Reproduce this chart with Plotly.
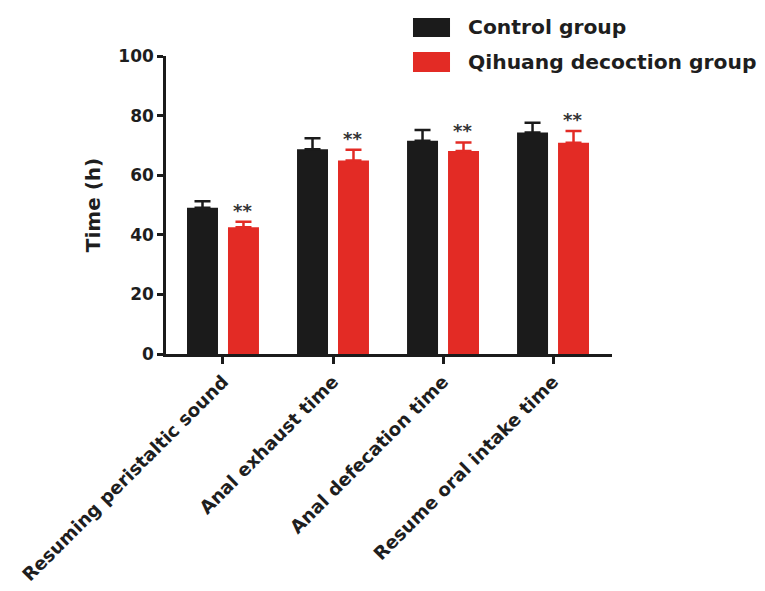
import plotly.graph_objects as go

categories = ["Resuming peristaltic sound", "Anal exhaust time",
              "Anal defecation time", "Resume oral intake time"]
control_mean = [49.1, 68.7, 71.6, 74.3]
control_err = [2.2, 3.7, 3.6, 3.3]
qihuang_mean = [42.5, 64.9, 68.1, 70.9]
qihuang_err = [1.9, 3.6, 2.9, 3.9]
series_names = ["Control group", "Qihuang decoction group"]
sig_labels = ["**", "**", "**", "**"]
y_ticks = [0, 20, 40, 60, 80, 100]

BLACK = "#1b1b1b"
RED = "#e32b25"
TXT = "#1e1e1e"
FONT = "DejaVu Sans"

fig = go.Figure()
fig.add_trace(go.Bar(
    x=categories, y=control_mean, name=series_names[0],
    marker=dict(color=BLACK, line=dict(width=0)),
    error_y=dict(type="data", symmetric=False, array=control_err,
                 arrayminus=[0] * 4, color=BLACK, thickness=2.5, width=8),
    showlegend=False,
))
fig.add_trace(go.Bar(
    x=categories, y=qihuang_mean, name=series_names[1],
    marker=dict(color=RED, line=dict(width=0)),
    error_y=dict(type="data", symmetric=False, array=qihuang_err,
                 arrayminus=[0] * 4, color=RED, thickness=2.5, width=8),
    showlegend=False,
))

# significance stars above the red bars
for c, m, e, s in zip(categories, qihuang_mean, qihuang_err, sig_labels):
    fig.add_annotation(x=c, y=m + e, text=s, showarrow=False,
                       xref="x", yref="y", xshift=19.5, yanchor="bottom", yshift=-1,
                       font=dict(family=FONT, size=18, color="#333333", weight="bold"))

# manual legend
legend_items = [(series_names[0], BLACK, 1.1275, 1.0638, 1.0973),
                (series_names[1], RED, 1.0134, 0.9463, 0.9799)]
for name, col, y0, y1, yc in legend_items:
    fig.add_shape(type="rect", xref="paper", yref="paper",
                  x0=0.5538, x1=0.6368, y0=y1, y1=y0,
                  fillcolor=col, line=dict(width=0), layer="above")
    fig.add_annotation(x=0.6726, y=yc, xref="paper", yref="paper",
                       text=name, showarrow=False, xanchor="left", yanchor="middle",
                       font=dict(family=FONT, size=20.3, color=TXT, weight="bold"))

fig.update_layout(
    width=757, height=583,
    margin=dict(l=158, r=153, t=48, b=237, autoexpand=False),
    paper_bgcolor="white", plot_bgcolor="white",
    barmode="group", bargap=0.255, bargroupgap=0.244,
    font=dict(family=FONT, color=TXT, weight="bold"),
)
fig.update_xaxes(
    range=[-0.518, 3.536], showline=True, linecolor=BLACK, linewidth=2.5,
    ticks="outside", ticklen=7, tickwidth=2.5, tickcolor=BLACK,
    tickangle=-45, tickfont=dict(family=FONT, size=18.3, color=TXT, weight="bold"),
    showgrid=False, zeroline=False, automargin=False,
)
fig.update_yaxes(
    range=[0, 100], tickvals=y_ticks, showline=True, linecolor=BLACK, linewidth=2.5,
    ticks="outside", ticklen=6, tickwidth=2.5, tickcolor=BLACK,
    tickfont=dict(family=FONT, size=17, color=TXT, weight="bold"),
    title=dict(text="Time (h)", standoff=13,
               font=dict(family=FONT, size=20, color=TXT, weight="bold")),
    showgrid=False, zeroline=False, automargin=False,
)

fig.write_html("out.html")
